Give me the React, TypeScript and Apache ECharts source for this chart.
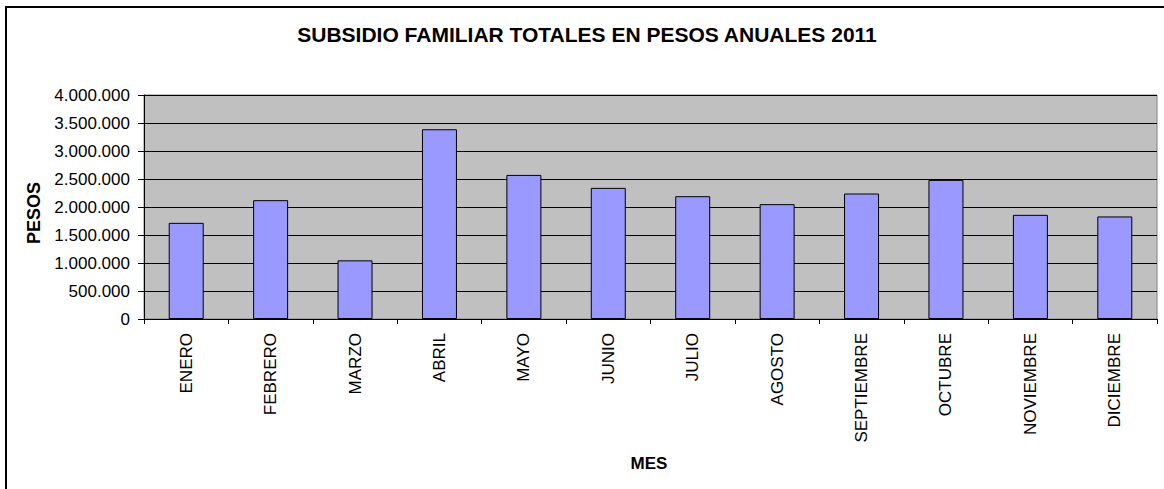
import React, { useEffect, useRef } from "react";
import * as echarts from "echarts";

const months = [
  "ENERO", "FEBRERO", "MARZO", "ABRIL", "MAYO", "JUNIO",
  "JULIO", "AGOSTO", "SEPTIEMBRE", "OCTUBRE", "NOVIEMBRE", "DICIEMBRE",
];
const pesos = [
  1717000, 2122000, 1047000, 3388000, 2573000, 2342000,
  2193000, 2051000, 2241000, 2484000, 1860000, 1831000,
];
const titleText = "SUBSIDIO FAMILIAR TOTALES EN PESOS ANUALES 2011";
const yName = "PESOS";
const xName = "MES";

const FONT = "'Liberation Sans', Arial, sans-serif";

function fmt(v: number): string {
  return String(Math.round(v)).replace(/\B(?=(\d{3})+(?!\d))/g, ".");
}

export default function App() {
  const ref = useRef<HTMLDivElement>(null);
  useEffect(() => {
    if (!ref.current) return;
    const chart = echarts.init(ref.current, null, { renderer: "svg" });
    chart.setOption({
      animation: false,
      backgroundColor: "#ffffff",
      title: {
        text: titleText,
        left: 587,
        top: 24,
        padding: 0,
        textAlign: "center",
        textStyle: { fontFamily: FONT, fontSize: 21, fontWeight: "bold", color: "#000" },
      },
      grid: {
        left: 144,
        top: 95,
        width: 1013,
        height: 224,
        show: true,
        backgroundColor: "#C0C0C0",
        borderColor: "#808080",
        borderWidth: 1,
      },
      xAxis: {
        type: "category",
        data: months,
        boundaryGap: true,
        axisLine: { show: true, lineStyle: { color: "#000", width: 1 } },
        axisTick: { show: true, length: 5, interval: 0, lineStyle: { color: "#000" } },
        axisLabel: {
          interval: 0,
          rotate: 90,
          margin: 14,
          fontFamily: FONT,
          fontSize: 17,
          color: "#000",
        },
        splitLine: { show: false },
      },
      yAxis: {
        type: "value",
        min: 0,
        max: 4000000,
        interval: 500000,
        axisLine: { show: true, lineStyle: { color: "#000", width: 1 } },
        axisTick: { show: true, length: 6, lineStyle: { color: "#000" } },
        axisLabel: {
          margin: 14,
          fontFamily: FONT,
          fontSize: 17,
          color: "#000",
          formatter: (v: number) => fmt(v),
        },
        splitLine: { show: true, lineStyle: { color: "#000", width: 1 } },
      },
      series: [
        {
          type: "bar",
          data: pesos,
          barWidth: 35,
          itemStyle: { color: "#9999FF", borderColor: "#000", borderWidth: 1 },
        },
      ],
      graphic: [
        {
          type: "line",
          shape: { x1: 5, y1: 7, x2: 1164, y2: 7 },
          style: { stroke: "#000", lineWidth: 2 },
        },
        {
          type: "line",
          shape: { x1: 6, y1: 6, x2: 6, y2: 489 },
          style: { stroke: "#000", lineWidth: 2 },
        },
        {
          type: "text",
          x: 34,
          y: 213,
          rotation: Math.PI / 2,
          style: {
            text: yName,
            fontFamily: FONT,
            fontSize: 18,
            fontWeight: "bold",
            fill: "#000",
            align: "center",
            verticalAlign: "middle",
          },
        },
        {
          type: "text",
          x: 649,
          y: 463,
          style: {
            text: xName,
            fontFamily: FONT,
            fontSize: 17,
            fontWeight: "bold",
            fill: "#000",
            align: "center",
            verticalAlign: "middle",
          },
        },
      ],
    });
    return () => chart.dispose();
  }, []);
  return (
    <div
      ref={ref}
      style={{ position: "absolute", left: 0, top: 0, width: 1164, height: 489 }}
    />
  );
}
